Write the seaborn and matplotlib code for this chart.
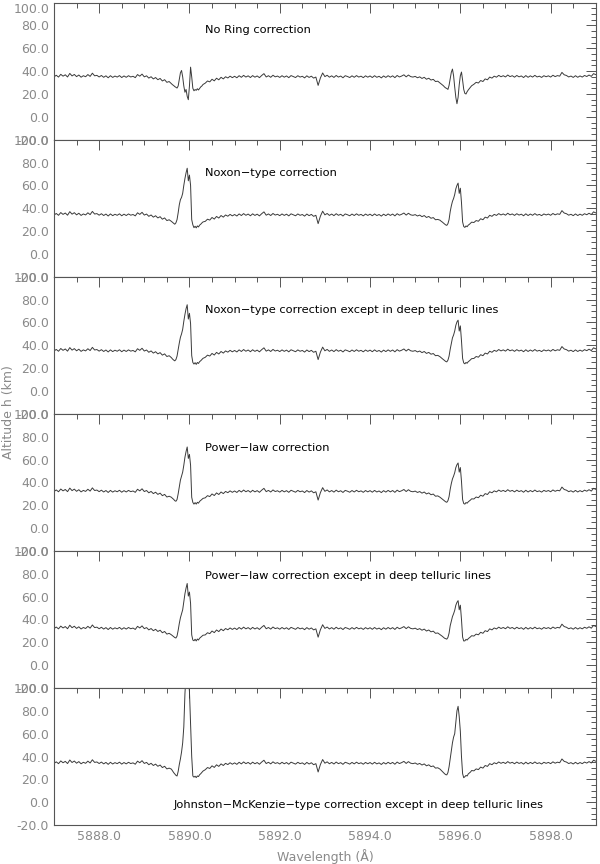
import numpy as np
import pandas as pd
import matplotlib
matplotlib.use("Agg")
import matplotlib.pyplot as plt
import seaborn as sns
from matplotlib.ticker import MultipleLocator, FormatStrFormatter

# ---------------- DATA ----------------
# common continuum shape, 5887.00 .. 5899.00 every 0.05 A
continuum = [
    35.0, 36.4, 34.8, 37.2, 35.6, 36.8, 34.9, 38.0, 35.8, 37.1,
    35.2, 36.6, 34.7, 36.0, 35.1, 37.0, 35.4, 38.2, 35.9, 36.3,
    34.9, 36.2, 34.6, 35.9, 34.2, 36.0, 34.5, 35.7, 34.8, 36.1,
    34.4, 35.8, 34.6, 36.0, 34.9, 35.5, 34.3, 37.0, 35.6, 37.4,
    35.0, 35.9, 33.9, 35.1, 33.2, 34.4, 32.5, 33.6, 31.4, 32.5,
    30.2, 30.9, 29.0, 28.0, 27.0, 26.0, 25.0, 25.0, 25.0, 25.0,
    25.0, 25.0, 25.0, 25.0, 26.0, 27.0, 28.0, 29.5, 31.4, 30.6,
    32.9, 31.5, 33.8, 32.4, 34.6, 33.2, 35.1, 34.0, 35.6, 34.3,
    35.5, 34.2, 36.0, 34.6, 36.3, 34.8, 35.9, 34.4, 36.1, 34.7,
    35.8, 34.3, 36.2, 37.8, 34.9, 36.0, 34.6, 36.4, 35.0, 35.7,
    34.5, 36.0, 34.7, 35.8, 34.3, 36.1, 35.2, 34.4, 36.0, 34.8,
    35.5, 34.1, 35.9, 34.5, 35.6, 33.9, 34.8, 27.5, 34.0, 38.4,
    35.2, 36.4, 34.7, 35.9, 34.5, 36.2, 34.8, 35.7, 34.2, 36.0,
    35.3, 34.4, 35.9, 34.6, 36.1, 34.8, 35.6, 34.3, 35.9, 34.7,
    35.8, 34.4, 36.0, 34.6, 35.5, 34.1, 35.8, 34.5, 36.0, 34.7,
    35.9, 34.3, 36.2, 34.9, 35.7, 36.8, 35.0, 36.6, 35.2, 34.8,
    35.4, 34.2, 35.0, 33.6, 34.6, 32.9, 33.8, 32.2, 32.8, 30.9,
    31.2, 29.6, 28.0, 26.0, 25.0, 25.0, 25.0, 25.0, 25.0, 25.0,
    25.0, 25.0, 25.0, 25.0, 25.0, 26.0, 28.5, 30.2, 29.6, 31.8,
    30.9, 33.2, 32.4, 34.8, 33.9, 35.6, 34.7, 36.3, 35.1, 36.0,
    34.9, 36.6, 35.2, 36.0, 34.7, 36.2, 35.0, 35.8, 34.4, 36.1,
    34.6, 35.9, 34.8, 36.3, 34.9, 35.6, 34.5, 36.0, 35.1, 35.9,
    34.8, 36.4, 35.2, 36.1, 35.6, 38.9, 36.8, 36.2, 34.9, 35.7,
    34.5, 36.0, 34.6, 35.8, 34.8, 36.2, 35.3, 36.6, 35.4, 37.8,
    36.9,
]

titles = [
    "No Ring correction",
    "Noxon\u2212type correction",
    "Noxon\u2212type correction except in deep telluric lines",
    "Power\u2212law correction",
    "Power\u2212law correction except in deep telluric lines",
    "Johnston\u2212McKenzie\u2212type correction except in deep telluric lines",
]

# continuum level of each panel (km)
levels = [35, 34, 35, 32, 32, 34]

# D2 line core, 5889.600 .. 5890.300 every 0.025 A
d2_core = [
    [29.0, 28.1, 27.4, 26.5, 25.8, 25.2, 27.0, 32.5, 38.5, 40.6, 35.0, 27.0, 21.5, 24.0, 18.0,
     15.0, 27.0, 43.5, 35.0, 25.0, 22.8, 23.9, 23.2, 24.6, 23.5, 24.8, 26.2, 27.0, 28.3],
    [28.5, 27.6, 26.8, 26.0, 27.2, 30.0, 36.0, 43.0, 47.5, 49.5, 53.0, 60.0, 66.0, 71.0, 75.0,
     64.0, 69.0, 60.0, 30.0, 25.5, 23.0, 24.2, 22.8, 24.5, 23.6, 25.2, 26.0, 27.1, 28.0],
    [29.2, 28.0, 27.1, 26.4, 27.5, 30.5, 36.5, 42.0, 47.0, 50.0, 54.0, 61.0, 67.0, 72.0, 75.5,
     63.0, 68.0, 59.0, 31.0, 25.0, 23.6, 24.8, 23.3, 25.0, 24.1, 25.7, 26.5, 27.6, 28.6],
    [27.0, 26.0, 25.2, 24.0, 23.5, 25.0, 30.0, 36.0, 42.0, 45.5, 49.0, 55.0, 62.0, 67.0, 71.0,
     61.0, 64.5, 55.0, 27.0, 22.5, 21.0, 22.3, 21.0, 22.6, 21.8, 23.4, 24.2, 25.1, 26.0],
    [26.6, 25.8, 25.0, 24.2, 23.8, 25.5, 30.5, 36.5, 41.5, 45.0, 48.5, 55.5, 62.5, 67.5, 71.5,
     60.5, 64.0, 54.0, 26.5, 22.0, 21.4, 22.7, 21.2, 22.9, 22.0, 23.6, 24.5, 25.3, 26.2],
    [29.0, 27.5, 26.0, 24.8, 23.6, 23.0, 27.0, 33.0, 38.0, 44.0, 52.0, 66.0, 95.0, 112.0, 118.0,
     110.0, 97.0, 68.0, 40.0, 23.0, 22.0, 22.8, 21.6, 23.0, 22.5, 24.1, 25.0, 26.2, 27.3],
]

# D1 line core, 5895.550 .. 5896.250 every 0.025 A
d1_core = [
    [29.6, 28.9, 28.0, 27.2, 26.1, 25.3, 24.8, 24.0, 27.5, 33.0, 39.0, 41.8, 36.0, 26.0, 17.0,
     11.5, 17.0, 28.0, 36.0, 39.2, 32.0, 24.0, 20.5, 20.0, 22.0, 23.5, 24.8, 26.0, 27.2],
    [29.5, 28.6, 27.9, 27.0, 26.2, 25.4, 25.0, 26.5, 30.0, 37.0, 42.0, 46.0, 48.5, 52.0, 57.0,
     60.0, 62.0, 53.0, 57.5, 45.0, 28.0, 24.0, 23.2, 24.5, 23.8, 25.2, 25.9, 26.8, 27.8],
    [30.0, 29.1, 28.3, 27.5, 26.6, 25.9, 25.5, 27.0, 30.5, 36.5, 41.5, 46.5, 49.0, 52.5, 57.5,
     60.5, 62.0, 52.5, 57.0, 44.0, 28.5, 24.6, 23.8, 25.0, 24.3, 25.7, 26.4, 27.3, 28.3],
    [27.0, 26.2, 25.5, 24.6, 23.8, 23.0, 22.6, 24.0, 27.5, 34.0, 39.0, 43.0, 45.5, 48.5, 53.0,
     55.5, 57.0, 49.0, 53.0, 41.0, 25.0, 21.5, 21.0, 22.4, 21.8, 23.0, 23.8, 24.6, 25.6],
    [26.8, 26.0, 25.3, 24.5, 23.6, 23.2, 22.8, 24.3, 28.0, 34.5, 38.5, 42.5, 45.0, 48.0, 52.5,
     55.0, 56.5, 48.5, 52.5, 40.0, 24.6, 21.2, 21.3, 22.6, 22.0, 23.2, 24.0, 24.8, 25.8],
    [29.0, 28.0, 27.1, 26.0, 25.0, 24.2, 24.0, 26.0, 31.0, 38.0, 45.0, 52.0, 57.0, 60.0, 70.0,
     80.0, 84.0, 75.0, 62.0, 40.0, 25.0, 21.5, 22.4, 23.5, 23.0, 24.8, 25.6, 26.5, 27.8],
]

# ---------------- BUILD TABLE ----------------
wl_cont = np.round(5887.0 + 0.05 * np.arange(len(continuum)), 3)
wl_d2 = np.round(5889.6 + 0.025 * np.arange(29), 3)
wl_d1 = np.round(5895.55 + 0.025 * np.arange(29), 3)
keep = ~(((wl_cont >= 5889.6) & (wl_cont <= 5890.3)) |
         ((wl_cont >= 5895.55) & (wl_cont <= 5896.25)))
cont = np.array(continuum)

frames = []
for i in range(6):
    wl = np.concatenate([wl_cont[keep], wl_d2, wl_d1])
    alt = np.concatenate([cont[keep] + (levels[i] - levels[0]), d2_core[i], d1_core[i]])
    frames.append(pd.DataFrame({"wavelength": wl, "altitude": alt, "panel": i}))
df = pd.concat(frames, ignore_index=True)

# ---------------- STYLE ----------------
sns.set_style("white")
plt.rcParams["font.family"] = ["DejaVu Sans"]
axis_grey = "#555555"
label_grey = "#8a8a8a"

fig, axes = plt.subplots(6, 1, figsize=(6, 8.64), dpi=100, sharex=True)
fig.subplots_adjust(left=0.09, right=0.993, top=0.997, bottom=0.045, hspace=0)

text_pos = [(5890.35, 76), (5890.35, 71), (5890.35, 71), (5890.35, 70), (5890.35, 78), (5889.65, -2)]

for i, ax in enumerate(axes):
    sub = df[df["panel"] == i]
    sns.lineplot(data=sub, x="wavelength", y="altitude", ax=ax, color="#3a3a3a",
                 linewidth=0.7, estimator=None)
    ax.set_xlim(5887, 5899)
    ax.set_ylim(-20, 100)
    ax.set_yticks([-20, 0, 20, 40, 60, 80, 100])
    ax.yaxis.set_major_formatter(FormatStrFormatter("%.1f"))
    ax.yaxis.set_minor_locator(MultipleLocator(5))
    ax.xaxis.set_major_locator(MultipleLocator(2))
    ax.xaxis.set_minor_locator(MultipleLocator(0.5))
    ax.xaxis.set_major_formatter(FormatStrFormatter("%.1f"))
    ax.tick_params(which="both", direction="in", top=True, right=True,
                   color=axis_grey, labelcolor=label_grey, labelsize=9, width=0.7)
    ax.tick_params(which="major", length=7)
    ax.tick_params(which="minor", length=3.5)
    for s in ax.spines.values():
        s.set_color(axis_grey)
        s.set_linewidth(0.8)
    ax.set_xlabel("")
    ax.set_ylabel("")
    tx, ty = text_pos[i]
    ax.text(tx, ty, titles[i], fontsize=8.2, color="black", va="center", ha="left")

# top label of the figure sits inside the frame
fig.canvas.draw()
axes[0].get_yticklabels()[-1].set_va("top")

axes[-1].set_xlabel("Wavelength (\u00c5)", color=label_grey, fontsize=9)
fig.text(0.014, 0.523, "Altitude h (km)", rotation=90, color=label_grey, fontsize=9,
         va="center", ha="center")

plt.savefig("out.png", dpi=100)
